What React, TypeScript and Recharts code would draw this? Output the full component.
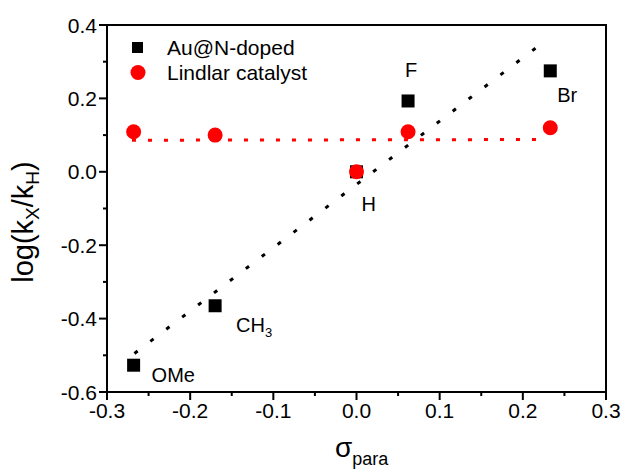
import { ScatterChart, Scatter, XAxis, YAxis, ReferenceArea } from 'recharts';

const substituents = ['OMe', 'CH3', 'H', 'F', 'Br'];
const sigmaPara = [-0.268, -0.17, 0, 0.062, 0.233];
const auLogK = [-0.527, -0.365, 0, 0.193, 0.275];
const lindlarLogK = [0.109, 0.1, 0, 0.109, 0.12];

// linear fits, end points
const auFitX = [-0.267, 0.224];
const auFitY = [-0.495, 0.352];
const lindlarFitX = [-0.27, 0.226];
const lindlarFitY = [0.086, 0.088];

const seriesNames = ['Au@N-doped', 'Lindlar catalyst'];

const xMajorTicks = [-0.3, -0.2, -0.1, 0, 0.1, 0.2, 0.3];
const xMinorTicks = [-0.25, -0.15, -0.05, 0.05, 0.15, 0.25];
const yMajorTicks = [-0.6, -0.4, -0.2, 0, 0.2, 0.4];
const yMinorTicks = [-0.5, -0.3, -0.1, 0.1, 0.3];

const FONT = '"Liberation Sans", Arial, Helvetica, sans-serif';

const auData = sigmaPara.map((x, i) => ({ x, y: auLogK[i], name: substituents[i] }));
const lindlarData = sigmaPara.map((x, i) => ({ x, y: lindlarLogK[i], name: substituents[i] }));
const auFit = auFitX.map((x, i) => ({ x, y: auFitY[i] }));
const lindlarFit = lindlarFitX.map((x, i) => ({ x, y: lindlarFitY[i] }));

// where each substituent label sits relative to its point
const labelOffset: Record<string, [number, number]> = {
  OMe: [18, 17],
  CH3: [21, 26],
  H: [5, 39],
  F: [-3, -24],
  Br: [7, 31],
};

const XTick = (props: any) => {
  const { x, y, payload } = props;
  const major = xMajorTicks.includes(payload.value);
  return (
    <g>
      <line x1={x} x2={x} y1={y} y2={y + (major ? 8 : 4)} stroke="#000" strokeWidth={2} />
      {major && (
        <text x={x} y={y + 26} textAnchor="middle" fontSize={21} fontFamily={FONT} fill="#000">
          {payload.value.toFixed(1)}
        </text>
      )}
    </g>
  );
};

const YTick = (props: any) => {
  const { x, y, payload } = props;
  const major = yMajorTicks.includes(payload.value);
  return (
    <g>
      <line x1={x - (major ? 8 : 4)} x2={x} y1={y} y2={y} stroke="#000" strokeWidth={2} />
      {major && (
        <text x={x - 10} y={y + 7.5} textAnchor="end" fontSize={21} fontFamily={FONT} fill="#000">
          {payload.value.toFixed(1)}
        </text>
      )}
    </g>
  );
};

const PointLabel = ({ cx, cy, name }: { cx: number; cy: number; name: string }) => {
  const [dx, dy] = labelOffset[name] || [10, 20];
  const sub = name === 'CH3';
  return (
    <text x={cx + dx} y={cy + dy} fontSize={20} fontFamily={FONT} fill="#000">
      {sub ? 'CH' : name}
      {sub && (
        <tspan fontSize={13} dy={5}>
          3
        </tspan>
      )}
    </text>
  );
};

const SquareShape = (props: any) => {
  const { cx, cy, payload } = props;
  return (
    <g>
      <rect x={cx - 6.5} y={cy - 6.5} width={13} height={13} fill="#000" />
      <PointLabel cx={cx} cy={cy} name={payload.name} />
    </g>
  );
};

const CircleShape = (props: any) => {
  const { cx, cy } = props;
  return <circle cx={cx} cy={cy} r={7.5} fill="#ff0000" />;
};

const Nothing = () => <g />;

export default function App() {
  return (
    <div style={{ position: 'absolute', left: 0, top: 0 }}>
      <ScatterChart
        width={623}
        height={472}
        margin={{ top: 25, right: 17, bottom: 0, left: 0 }}
        style={{ fontFamily: FONT }}
      >
        <XAxis
          type="number"
          dataKey="x"
          domain={[-0.3, 0.3]}
          ticks={[...xMajorTicks, ...xMinorTicks].sort((a, b) => a - b)}
          interval={0}
          tick={<XTick />}
          tickLine={false}
          tickSize={0}
          tickMargin={0}
          height={80}
          axisLine={{ stroke: '#000', strokeWidth: 2 }}
          allowDataOverflow
          label={{
            content: () => (
              <text x={335} y={457} fontSize={28} fontFamily={FONT} fill="#000">
                σ
                <tspan fontSize={18} dy={8}>
                  para
                </tspan>
              </text>
            ),
          }}
        />
        <YAxis
          type="number"
          dataKey="y"
          domain={[-0.6, 0.4]}
          ticks={[...yMajorTicks, ...yMinorTicks].sort((a, b) => a - b)}
          interval={0}
          tick={<YTick />}
          tickLine={false}
          tickSize={0}
          tickMargin={0}
          width={107}
          axisLine={{ stroke: '#000', strokeWidth: 2 }}
          allowDataOverflow
          label={{
            content: () => (
              <text
                x={33}
                y={222}
                transform="rotate(-90, 33, 222)"
                textAnchor="middle"
                fontSize={29}
                fontFamily={FONT}
                fill="#000"
              >
                log(k
                <tspan fontSize={19} dy={6}>X</tspan>
                <tspan dy={-6}>/k</tspan>
                <tspan fontSize={19} dy={6}>H</tspan>
                <tspan dy={-6}>)</tspan>
              </text>
            ),
          }}
        />
        <ReferenceArea x1={-0.3} x2={0.3} y1={-0.6} y2={0.4} fill="none" stroke="#000" strokeWidth={2} />
        <Scatter
          data={lindlarFit}
          fill="#ff0000"
          line={{ stroke: '#ff0000', strokeWidth: 3, strokeDasharray: '4 12' }}
          shape={<Nothing />}
          isAnimationActive={false}
        />
        <Scatter
          data={auFit}
          fill="#000"
          line={{ stroke: '#000', strokeWidth: 3, strokeDasharray: '4 16' }}
          shape={<Nothing />}
          isAnimationActive={false}
        />
        <Scatter name={seriesNames[0]} data={auData} fill="#000" shape={<SquareShape />} isAnimationActive={false} />
        <Scatter name={seriesNames[1]} data={lindlarData} fill="#ff0000" shape={<CircleShape />} isAnimationActive={false} />
        <g>
          <rect x={132} y={42} width={11} height={11} fill="#000" />
          <text x={167} y={55} fontSize={21} fontFamily={FONT} fill="#000">
            {seriesNames[0]}
          </text>
          <circle cx={138} cy={72.5} r={7.5} fill="#ff0000" />
          <text x={167} y={80} fontSize={21} fontFamily={FONT} fill="#000">
            {seriesNames[1]}
          </text>
        </g>
      </ScatterChart>
    </div>
  );
}
